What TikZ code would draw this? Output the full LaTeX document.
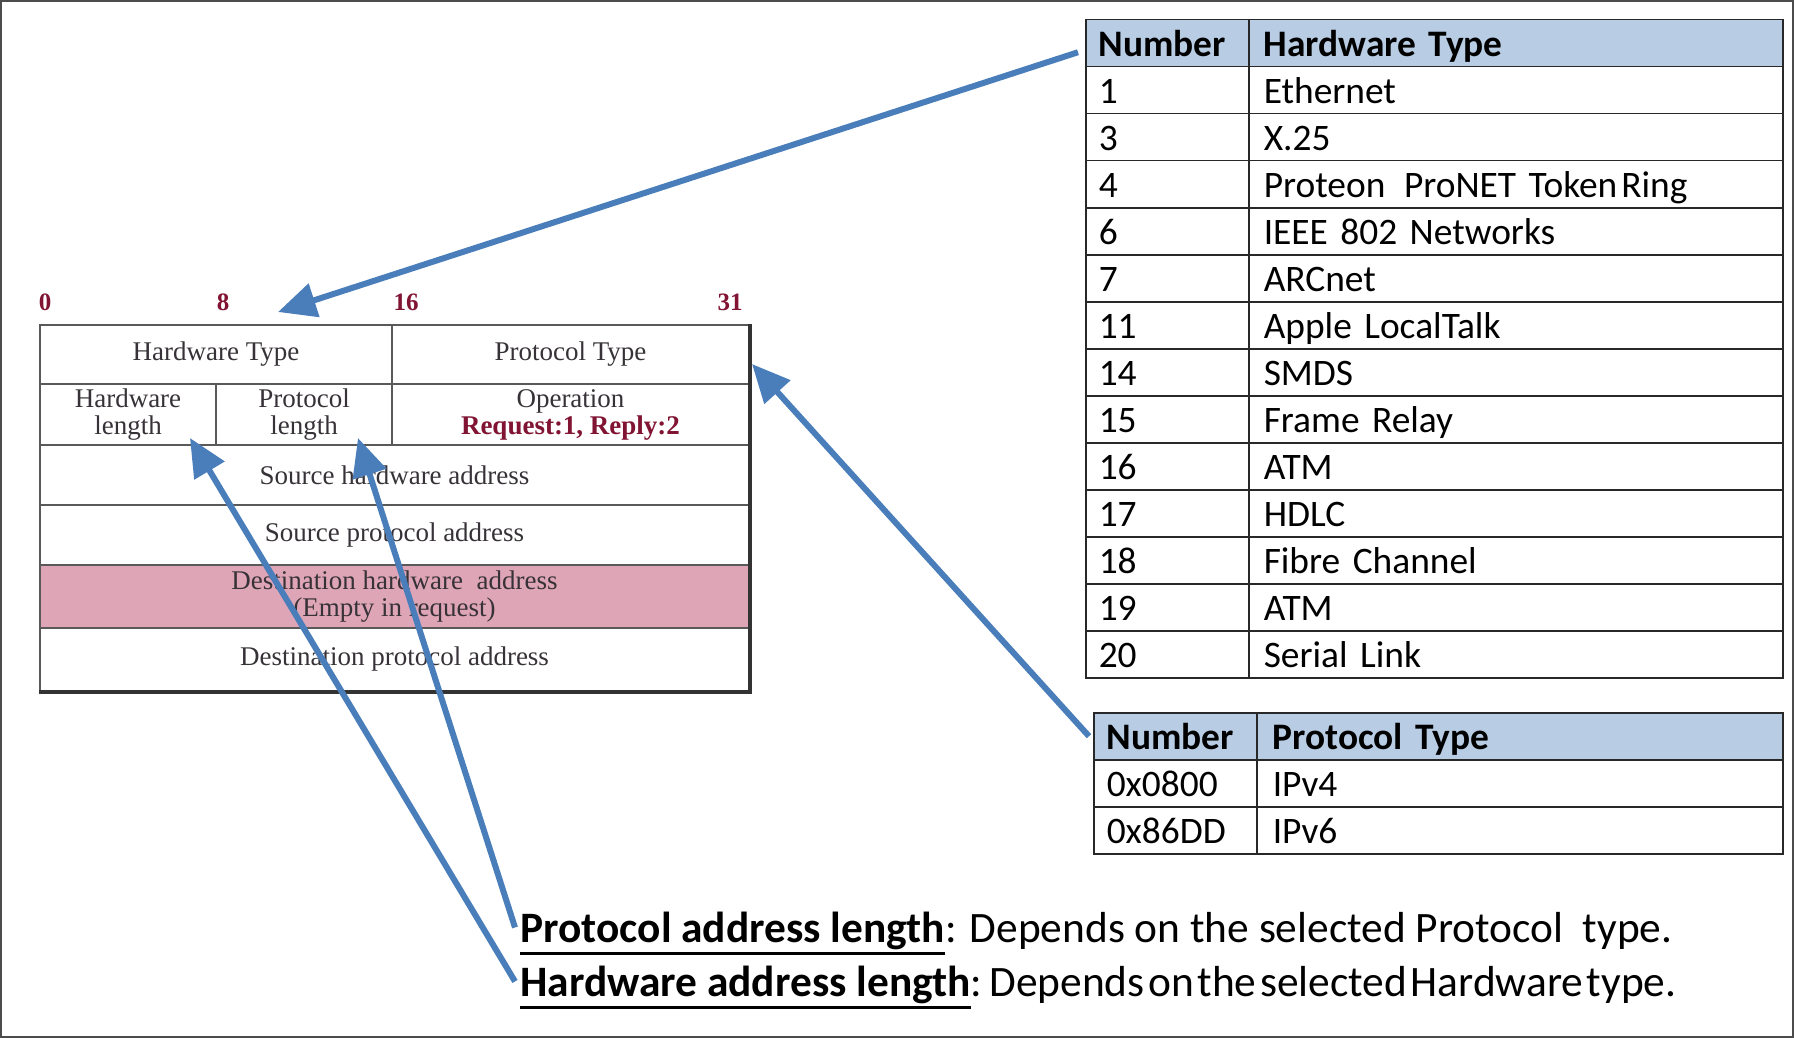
\documentclass[tikz,border=0pt]{standalone}
\usepackage{fontspec}
\setmainfont{Carlito}
\newfontfamily\pktfont{Liberation Serif}
\usetikzlibrary{arrows.meta}

\definecolor{arrowblue}{RGB}{74,126,187}
\definecolor{headblue}{RGB}{184,204,228}
\definecolor{bitred}{RGB}{128,20,50}
\definecolor{destpink}{RGB}{222,165,182}
\definecolor{pkttext}{RGB}{55,50,55}
\definecolor{tabline}{RGB}{40,40,40}

\newcommand\keyterm[1]{\vtop{\hbox{\bfseries #1}\kern1.5pt\hrule height 1.5pt}}

\tikzset{
  pointer/.style={draw=arrowblue, line width=3pt, -{Triangle[length=19pt,width=17pt]}},
  field/.style={draw=gray!70!black, line width=0.8pt, inner sep=0pt, align=center,
    font=\pktfont\fontsize{13.5}{13.5}\selectfont, text=pkttext},
  bitnum/.style={font=\pktfont\bfseries\fontsize{12.5}{12.5}\selectfont, text=bitred},
  numcell/.style={draw=tabline, line width=0.75pt, anchor=north west, minimum height=23.5pt,
    text width=68.5pt, inner xsep=6.5pt, inner ysep=0pt, align=left,
    text height=15pt, text depth=2pt, font=\fontsize{18.7}{20}\selectfont},
  namecell/.style={numcell, text width=252pt, inner xsep=7.5pt},
  headcell/.style={fill=headblue, font=\bfseries\fontsize{18.7}{20}\selectfont},
  note/.style={anchor=base west, inner sep=0pt, font=\fontsize{21.7}{24}\selectfont},
}

\begin{document}
\begin{tikzpicture}[x=0.5pt,y=-0.5pt]
\useasboundingbox (0,0) rectangle (1794,1038);
\draw[gray!60!black, line width=1pt] (1,1) rectangle (1793,1037);

\node[bitnum] (b0) at (45,302) {0};
\node[bitnum] (b8) at (223,302) {8};
\node[bitnum] (b16) at (406,302) {16};
\node[bitnum] (b31) at (730,302) {31};

\node[field, minimum width=176pt, minimum height=29.5pt] (hwtype) at (216,354.5) {Hardware Type};
\node[field, minimum width=178.5pt, minimum height=29.5pt] (prtype) at (570.5,354.5) {Protocol Type};
\node[field, minimum width=88pt, minimum height=30.5pt] (hwlen) at (128,414.5) {Hardware\\length};
\node[field, minimum width=88pt, minimum height=30.5pt] (prlen) at (304,414.5) {Protocol\\length};
\node[field, minimum width=178.5pt, minimum height=30.5pt] (oper) at (570.5,414.5) {Operation\\\textcolor{bitred}{\bfseries Request:1, Reply:2}};
\node[field, minimum width=354.5pt, minimum height=30pt] (srchw) at (394.5,475) {Source hardware address};
\node[field, minimum width=354.5pt, minimum height=30pt] (srcpr) at (394.5,535) {Source protocol address};
\node[field, fill=destpink, minimum width=354.5pt, minimum height=31.5pt] (dsthw) at (394.5,596.5) {Destination hardware\ \ address\\(Empty in request)};
\node[field, minimum width=354.5pt, minimum height=31.5pt] (dstpr) at (394.5,659.5) {Destination protocol address};
\draw[gray!40!black, line width=2pt] (prtype.north east) -- (dstpr.south east) -- (dstpr.south west);

\node[numcell, headcell] (hwn0) at (1085,19) {Number};
\node[namecell, headcell] (hwt0) at (1248,19) {Hardware Type};
\foreach \n/\t [count=\i] in {1/Ethernet, 3/X.25, 4/Proteon\enspace ProNET Token\hspace{2pt}Ring,
    6/IEEE 802 Networks, 7/ARCnet, 11/Apple LocalTalk, 14/SMDS, 15/Frame Relay,
    16/ATM, 17/HDLC, 18/Fibre Channel, 19/ATM, 20/Serial Link}
{
  \node[numcell] (hwn\i) at (1085,{19+47*\i}) {\n};
  \node[namecell] (hwt\i) at (1248,{19+47*\i}) {\t};
}

\node[numcell, headcell] (prn0) at (1093,712) {Number};
\node[namecell, headcell, text width=247pt, inner xsep=8pt] (prt0) at (1256,712) {Protocol Type};
\foreach \n/\t [count=\i] in {0x0800/IPv4, 0x86DD/IPv6}
{
  \node[numcell] (prn\i) at (1093,{712+47*\i}) {\n};
  \node[namecell, text width=247pt, inner xsep=8pt] (prt\i) at (1256,{712+47*\i}) {\t};
}

\node[note] (prnote) at (520,942) {\keyterm{Protocol address length}: Depends on the selected Protocol\ \ type.};
\node[note] (hwnote) at (520,996) {\keyterm{Hardware address length}:\spaceskip=1.8pt\relax{} Depends on the selected Hardware type.};

\coordinate (hwtip) at (278,312);
\coordinate (prtip) at (752,364);
\coordinate (hlentip) at (190,438);
\coordinate (plentip) at (358,438);

\draw[pointer] ([shift={(-7,9)}]hwn0.west) -- (hwtip);
\draw[pointer] ([xshift=-2pt]prn0.west) -- (prtip);
\draw[pointer] ([shift={(-5,-6)}]hwnote.west) -- (hlentip);
\draw[pointer] ([shift={(-5,-6)}]prnote.west) -- (plentip);
\end{tikzpicture}
\end{document}
